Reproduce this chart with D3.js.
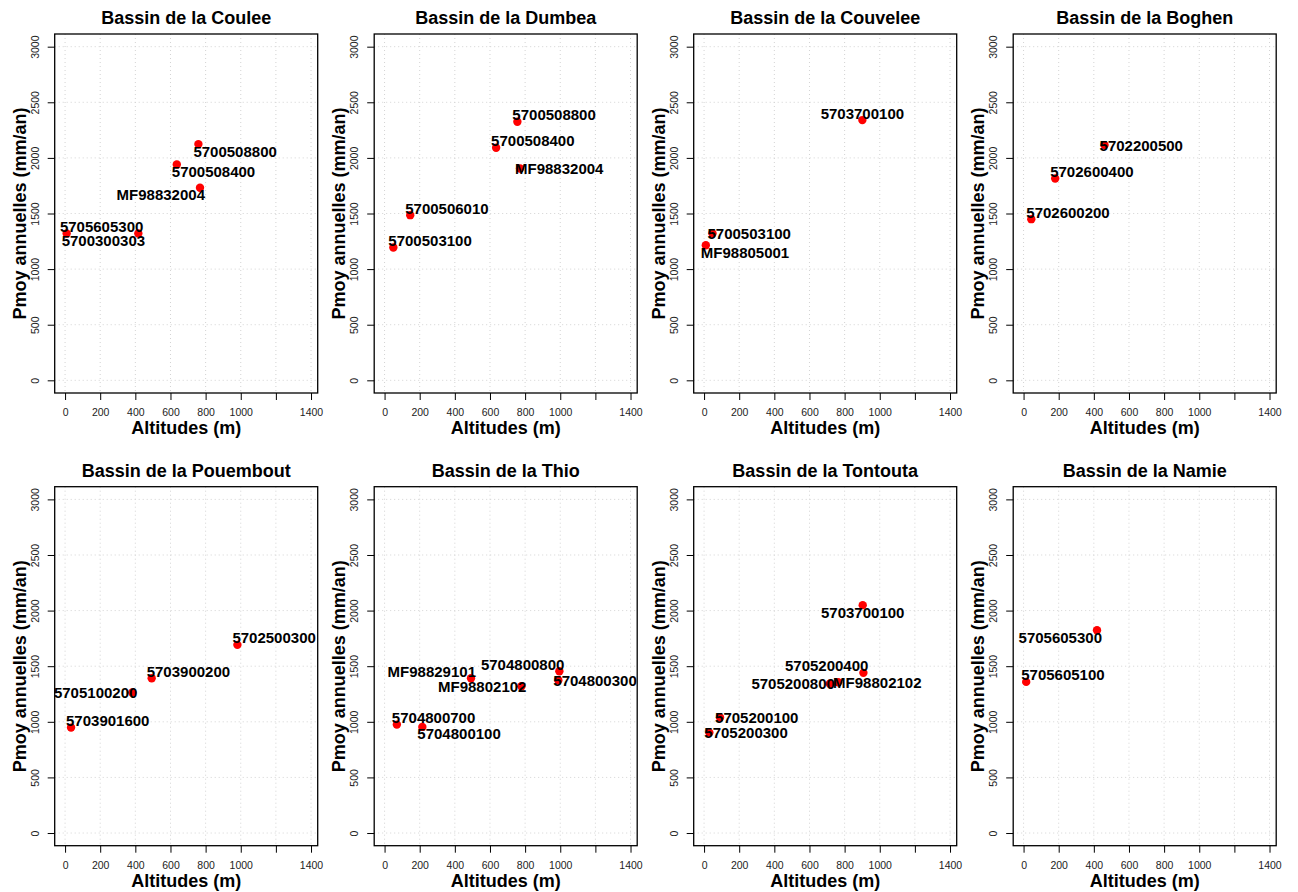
<!DOCTYPE html>
<html>
<head>
<meta charset="utf-8">
<script src="https://cdn.jsdelivr.net/npm/d3@7"></script>
<style>
  html, body { margin: 0; padding: 0; background: #fff; }
  svg { display: block; font-family: "Liberation Sans", Arial, sans-serif; }
</style>
</head>
<body>
<svg id="chart" width="1298" height="892"></svg>
<script>
// Mean annual rainfall vs. station altitude, one panel per river basin.
const basinTitles = [
  "Bassin de la Coulee", "Bassin de la Dumbea", "Bassin de la Couvelee", "Bassin de la Boghen",
  "Bassin de la Pouembout", "Bassin de la Thio", "Bassin de la Tontouta", "Bassin de la Namie"
];

// station, altitude (m), Pmoy (mm/an)
const coulee = [
  ["5700508800", 759, 2124],
  ["5700508400", 636, 1941],
  ["MF98832004", 768, 1731],
  ["5705605300", 417, 1320],
  ["5700300303", 9, 1320]
];
const dumbea = [
  ["5700508800", 756, 2325],
  ["5700508400", 635, 2091],
  ["MF98832004", 771, 1905],
  ["5700506010", 146, 1485],
  ["5700503100", 50, 1194]
];
const couvelee = [
  ["5703700100", 901, 2340],
  ["5700503100", 48, 1320],
  ["MF98805001", 10, 1215]
];
const boghen = [
  ["5702200500", 461, 2115],
  ["5702600400", 180, 1815],
  ["5702600200", 44, 1449]
];
const pouembout = [
  ["5702500300", 981, 1692],
  ["5703900200", 493, 1392],
  ["5705100200", 383, 1263],
  ["5703901600", 34, 948]
];
const thio = [
  ["5704800800", 995, 1455],
  ["5704800300", 989, 1374],
  ["MF98829101", 492, 1392],
  ["MF98802102", 779, 1320],
  ["5704800700", 70, 975],
  ["5704800100", 215, 954]
];
const tontouta = [
  ["5703700100", 903, 2049],
  ["5705200400", 907, 1440],
  ["5705200800", 716, 1343],
  ["MF98802102", 763, 1356],
  ["5705200100", 91, 1038],
  ["5705200300", 30, 903]
];
const namie = [
  ["5705605300", 418, 1824],
  ["5705605100", 15, 1359]
];

// Side of each point on which its station name is written
const couleeSides    = ["se", "se", "sw", "nw", "se"];
const dumbeaSides    = ["ne", "ne", "e", "ne", "ne"];
const couveleeSides  = ["n", "e", "se"];
const boghenSides    = ["e", "ne", "ne"];
const pouemboutSides = ["ne", "ne", "w", "ne"];
const thioSides      = ["nw", "e", "nw", "w", "ne", "se"];
const tontoutaSides  = ["s", "nw", "w", "e", "e", "e"];
const namieSides     = ["sw", "ne"];

const xTicks = [0, 200, 400, 600, 800, 1000, 1200, 1400];
const xTickLabels = ["0", "200", "400", "600", "800", "1000", "", "1400"];
const yTicks = [0, 500, 1000, 1500, 2000, 2500, 3000];
const yTickLabels = ["0", "500", "1000", "1500", "2000", "2500", "3000"];

const xTitle = "Altitudes (m)";
const yTitle = "Pmoy annuelles (mm/an)";

const panels = [
  [coulee, couleeSides], [dumbea, dumbeaSides], [couvelee, couveleeSides], [boghen, boghenSides],
  [pouembout, pouemboutSides], [thio, thioSides], [tontouta, tontoutaSides], [namie, namieSides]
];

// Layout
const plotW = 263, plotH = 359;
const colStep = 319.5, rowStep = 452.7;
const left0 = 54.7, top0 = 34;

const x = d3.scaleLinear().domain([-59, 1438]).range([0, plotW]);
const y = d3.scaleLinear().domain([-114, 3114]).range([plotH, 0]);

const svg = d3.select("#chart");

panels.forEach(([rows, sides], i) => {
  const col = i % 4, row = Math.floor(i / 4);
  const g = svg.append("g")
    .attr("transform", `translate(${left0 + col * colStep},${top0 + row * rowStep})`);

  // dotted grid
  g.append("g").selectAll("line").data(xTicks).join("line")
    .attr("x1", d => x(d)).attr("x2", d => x(d))
    .attr("y1", 0).attr("y2", plotH)
    .attr("stroke", "#d3d3d3").attr("stroke-width", 1).attr("stroke-dasharray", "1,3");
  g.append("g").selectAll("line").data(yTicks).join("line")
    .attr("x1", 0).attr("x2", plotW)
    .attr("y1", d => y(d)).attr("y2", d => y(d))
    .attr("stroke", "#d3d3d3").attr("stroke-width", 1).attr("stroke-dasharray", "1,3");

  // axes
  const xAxis = g.append("g").attr("transform", `translate(0,${plotH})`)
    .call(d3.axisBottom(x).tickValues(xTicks).tickSize(7).tickPadding(9)
      .tickFormat((d, k) => xTickLabels[k]));
  xAxis.select(".domain").remove();
  xAxis.selectAll("text").attr("font-size", 10.5).attr("fill", "#222")
    .attr("font-family", "Liberation Sans, Arial, sans-serif");
  xAxis.selectAll("line").attr("stroke", "#000");

  const yAxis = g.append("g")
    .call(d3.axisLeft(y).tickValues(yTicks).tickSize(7).tickFormat((d, k) => yTickLabels[k]));
  yAxis.select(".domain").remove();
  yAxis.selectAll("line").attr("stroke", "#000");
  yAxis.selectAll("text")
    .attr("font-size", 10.5).attr("fill", "#222")
    .attr("font-family", "Liberation Sans, Arial, sans-serif")
    .attr("x", 0).attr("y", 0).attr("dy", null)
    .attr("text-anchor", "middle").attr("dominant-baseline", "central")
    .attr("transform", "translate(-20,0) rotate(-90)");

  // frame
  g.append("rect").attr("width", plotW).attr("height", plotH)
    .attr("fill", "none").attr("stroke", "#000").attr("stroke-width", 1.3);

  // titles
  g.append("text").attr("x", plotW / 2).attr("y", -16)
    .attr("text-anchor", "middle").attr("dominant-baseline", "central")
    .attr("font-size", 18).attr("font-weight", "bold").text(basinTitles[i]);
  g.append("text").attr("x", plotW / 2).attr("y", plotH + 35)
    .attr("text-anchor", "middle").attr("dominant-baseline", "central")
    .attr("font-size", 18).attr("font-weight", "bold").text(xTitle);
  g.append("text")
    .attr("transform", `translate(-35,${plotH / 2}) rotate(-90)`)
    .attr("text-anchor", "middle").attr("dominant-baseline", "central")
    .attr("font-size", 18).attr("font-weight", "bold").text(yTitle);

  // points
  g.append("g").selectAll("circle").data(rows).join("circle")
    .attr("cx", d => x(d[1])).attr("cy", d => y(d[2]))
    .attr("r", 4.2).attr("fill", "#ff0000");

  // station labels
  g.append("g").selectAll("text").data(rows).join("text")
    .each(function (d, k) {
      const side = sides[k];
      const px = x(d[1]), py = y(d[2]);
      let anchor = "middle", tx = px, ty = py;
      if (side.includes("e")) { anchor = "start"; tx = px - 5; }
      if (side.includes("w")) { anchor = "end"; tx = px + 5; }
      if (side.includes("n")) ty = py - 7;
      if (side.includes("s")) ty = py + 7;
      d3.select(this).attr("x", tx).attr("y", ty).attr("text-anchor", anchor);
    })
    .attr("dominant-baseline", "central")
    .attr("font-size", 15).attr("font-weight", "bold").attr("fill", "#000")
    .text(d => d[0]);
});
</script>
</body>
</html>
